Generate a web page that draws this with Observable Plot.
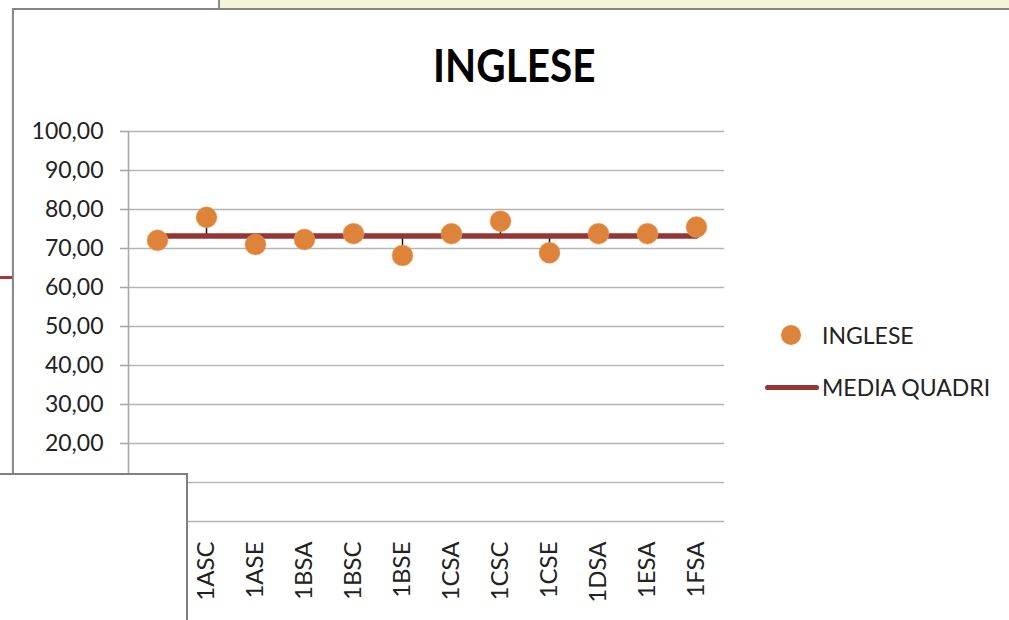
<!DOCTYPE html>
<html>
<head>
<meta charset="utf-8">
<script src="https://cdn.jsdelivr.net/npm/d3@7"></script>
<script src="https://cdn.jsdelivr.net/npm/@observablehq/plot@0.6"></script>
<style>
  html, body { margin: 0; padding: 0; background: #fff; }
  #page { position: relative; width: 1009px; height: 620px; overflow: hidden; background: #fff; font-family: Lato, "Open Sans", sans-serif; }
  #sheet { position: absolute; left: 218px; top: 0; width: 791px; height: 9px; background: #f2f5d7; border-left: 2px solid #8a8a8a; }
  #frame { position: absolute; left: 12px; top: 8px; width: 1100px; height: 700px; border-top: 2px solid #858585; border-left: 2px solid #8a8a8a; box-shadow: 0 1px 1px #bbb; }
  #redline { position: absolute; left: 0; top: 276px; width: 12px; height: 3px; background: #a23a36; }
  #chart { position: absolute; left: 0; top: 0; }
  #title { position: absolute; left: 0; width: 1028px; top: 35px; text-align: center; }
  #title span { display: inline-block; transform: scaleX(0.88); font-family: Lato, sans-serif; font-weight: bold; font-size: 46px; line-height: 60px; color: #000; }
  .leg { position: absolute; font-size: 23px; color: #222; line-height: 28px; }
  #legdot { position: absolute; left: 781px; top: 325px; width: 20px; height: 20px; border-radius: 50%; background: #de843a; }
  #legline { position: absolute; left: 765px; top: 385px; width: 54px; height: 5px; border-radius: 3px; background: #963634; }
  #box { position: absolute; left: -4px; top: 473px; width: 190px; height: 200px; background: #fff; border-top: 2px solid #808080; border-right: 2px solid #808080; }
</style>
</head>
<body>
<div id="page">
  <div id="sheet"></div>
  <div id="frame"></div>
  <div id="redline"></div>
  <div id="chart"></div>
  <div id="title"><span>INGLESE</span></div>
  <div id="legdot"></div>
  <div class="leg" style="left:822px; top:321px;">INGLESE</div>
  <div id="legline"></div>
  <div class="leg" style="left:822px; top:373px;">MEDIA QUADRI</div>
  <div id="box"></div>
</div>
<script>
const categories = ["1ASA", "1ASC", "1ASE", "1BSA", "1BSC", "1BSE", "1CSA", "1CSC", "1CSE", "1DSA", "1ESA", "1FSA"];
const inglese = [72.1, 78.0, 71.0, 72.3, 73.8, 68.2, 73.8, 77.0, 68.9, 73.8, 73.8, 75.5];
const mediaQuadri = [73.2, 73.2, 73.2, 73.2, 73.2, 73.2, 73.2, 73.2, 73.2, 73.2, 73.2, 73.2];
const yTicks = [0, 10, 20, 30, 40, 50, 60, 70, 80, 90, 100];

const data = categories.map((c, i) => ({cat: c, value: inglese[i], media: mediaQuadri[i]}));
const fmt = d => d.toFixed(2).replace(".", ",");

const chart = Plot.plot({
  width: 1009,
  height: 620,
  marginLeft: 128,
  marginRight: 285,
  marginTop: 131,
  marginBottom: 99,
  style: {fontFamily: "Lato, 'Open Sans', sans-serif", fontSize: "23px", color: "#222", background: "transparent"},
  x: {type: "point", domain: categories, padding: 0.5},
  y: {domain: [0, 100]},
  marks: [
    Plot.gridY(yTicks, {stroke: "#b5b5b5", strokeOpacity: 1, strokeWidth: 1.6}),
    Plot.frame({anchor: "left", stroke: "#a8a8a8", strokeWidth: 1.6}),
    Plot.axisY(yTicks, {tickFormat: fmt, tickSize: 8, tickPadding: 17, stroke: "#a8a8a8", strokeWidth: 1.6, fill: "#222", label: null, fontSize: 23}),
    Plot.axisX({tickRotate: -90, tickSize: 0, tickPadding: 20, label: null, fontSize: 24, fill: "#222"}),
    Plot.ruleX(data, {x: "cat", y1: "media", y2: "value", stroke: "#111", strokeWidth: 1.5}),
    Plot.lineY(data, {x: "cat", y: "media", stroke: "#963634", strokeWidth: 5.5}),
    Plot.dot(data, {x: "cat", y: "value", r: 10.5, fill: "#de843a", stroke: "#e8a36a", strokeWidth: 0.5})
  ]
});
document.getElementById("chart").appendChild(chart);
</script>
</body>
</html>
